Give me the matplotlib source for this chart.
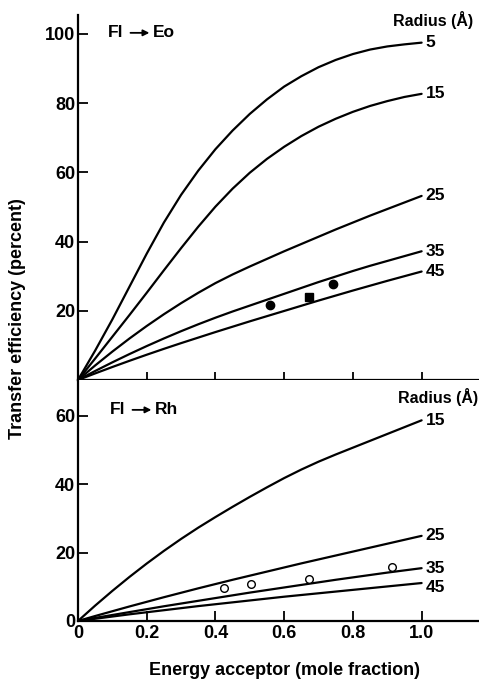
import numpy as np
import matplotlib
matplotlib.use("Agg")
import matplotlib.pyplot as plt

plt.rcParams['font.family'] = ['Liberation Sans', 'DejaVu Sans']

# mole fraction of energy acceptor
x = [0.0, 0.05, 0.1, 0.15, 0.2, 0.25, 0.3, 0.35, 0.4, 0.45, 0.5,
     0.55, 0.6, 0.65, 0.7, 0.75, 0.8, 0.85, 0.9, 0.95, 1.0]

# Fl -> Eo, transfer efficiency (percent) for each radius (A)
eo_radii = ['5', '15', '25', '35', '45']
eo_r5 = [0, 8.5, 17.5, 27, 36.5, 45.5, 53.5, 60.5, 66.7, 72.1, 76.9,
         81.1, 84.8, 87.8, 90.4, 92.5, 94.2, 95.5, 96.4, 97.0, 97.5]
eo_r15 = [0, 6.2, 12.5, 18.8, 25.2, 31.7, 38.1, 44.3, 50.1, 55.3, 59.9,
          63.9, 67.4, 70.5, 73.2, 75.5, 77.5, 79.2, 80.6, 81.8, 82.7]
eo_r25 = [0, 4.2, 8.2, 12.0, 15.6, 19.0, 22.2, 25.2, 28.0, 30.5, 32.8,
          35.0, 37.2, 39.3, 41.4, 43.5, 45.5, 47.5, 49.4, 51.3, 53.2]
eo_r35 = [0, 2.6, 5.1, 7.5, 9.8, 12.0, 14.1, 16.1, 18.0, 19.8, 21.5,
          23.2, 24.9, 26.6, 28.3, 29.9, 31.5, 33.0, 34.4, 35.8, 37.2]
eo_r45 = [0, 1.9, 3.75, 5.55, 7.3, 9.0, 10.65, 12.25, 13.85, 15.4, 16.95,
          18.45, 19.95, 21.45, 22.95, 24.4, 25.85, 27.25, 28.65, 30.0, 31.35]

eo_circ_x = [0.559, 0.741]
eo_circ_y = [21.7, 27.6]
eo_sq_x = [0.671]
eo_sq_y = [24.1]

# Fl -> Rh
rh_radii = ['15', '25', '35', '45']
rh_r15 = [0, 4.5, 8.8, 12.9, 16.8, 20.5, 24.0, 27.3, 30.4, 33.4, 36.3,
          39.1, 41.8, 44.3, 46.6, 48.7, 50.7, 52.7, 54.7, 56.7, 58.7]
rh_r25 = [0, 1.45, 2.85, 4.25, 5.6, 6.95, 8.25, 9.55, 10.8, 12.05, 13.25,
          14.45, 15.65, 16.85, 18.0, 19.15, 20.3, 21.45, 22.6, 23.75, 24.9]
rh_r35 = [0, 0.9, 1.75, 2.6, 3.45, 4.3, 5.1, 5.9, 6.7, 7.5, 8.3,
          9.05, 9.8, 10.55, 11.3, 12.05, 12.75, 13.45, 14.15, 14.8, 15.45]
rh_r45 = [0, 0.65, 1.3, 1.95, 2.55, 3.15, 3.75, 4.35, 4.9, 5.45, 6.0,
          6.55, 7.1, 7.6, 8.1, 8.6, 9.1, 9.6, 10.1, 10.6, 11.1]

rh_open_x = [0.426, 0.504, 0.672, 0.915]
rh_open_y = [9.75, 10.8, 12.3, 15.9]

xticks = [0, 0.2, 0.4, 0.6, 0.8, 1.0]
xticklabels = ['0', '0.2', '0.4', '0.6', '0.8', '1.0']

fig = plt.figure(figsize=(4.79, 6.80), dpi=100)
ax1 = fig.add_axes([0.1628, 0.4412, 0.8372, 0.5368])
ax2 = fig.add_axes([0.1628, 0.0868, 0.8372, 0.3544])

lw = 1.6
tfs = 13   # tick labels
cfs = 12.5 # curve labels

def style(ax, ylim, yticks):
    ax.set_xlim(0, 1.167)
    ax.set_ylim(*ylim)
    for s in ['top', 'right']:
        ax.spines[s].set_visible(False)
    for s in ['left', 'bottom']:
        ax.spines[s].set_linewidth(1.6)
    ax.set_yticks(yticks)
    ax.set_yticklabels([str(v) for v in yticks], fontsize=tfs, fontweight='bold')
    ax.tick_params(axis='y', direction='in', length=7, width=1.3, pad=2)
    ax.set_xticks(xticks)

# ---- top panel
style(ax1, (0, 105.5), [20, 40, 60, 80, 100])
ax1.tick_params(axis='x', direction='inout', length=12, width=1.3, labelbottom=False)
for lab, ys in zip(eo_radii, [eo_r5, eo_r15, eo_r25, eo_r35, eo_r45]):
    ax1.plot(x, ys, color='black', lw=lw, solid_capstyle='round')
    ax1.text(1.012, ys[-1], lab, fontsize=cfs, fontweight='bold', va='center', ha='left')
ax1.plot(eo_circ_x, eo_circ_y, 'o', color='black', ms=6)
ax1.plot(eo_sq_x, eo_sq_y, 's', color='black', ms=5.5)
ax1.text(0.985, 0.985, 'Radius (Å)', transform=ax1.transAxes, fontsize=11.5,
         fontweight='bold', ha='right', va='center')
ax1.text(0.075, 0.951, 'Fl', transform=ax1.transAxes, fontsize=cfs, fontweight='bold',
         ha='left', va='center')
ax1.annotate('', xy=(0.185, 0.951), xytext=(0.124, 0.951), xycoords='axes fraction',
             arrowprops=dict(arrowstyle='-|>', color='black', lw=1.3, mutation_scale=9))
ax1.text(0.187, 0.951, 'Eo', transform=ax1.transAxes, fontsize=cfs, fontweight='bold',
         ha='left', va='center')

# ---- bottom panel
style(ax2, (0, 70.5), [0, 20, 40, 60])
ax2.tick_params(axis='x', direction='in', length=7, width=1.3, pad=3)
ax2.set_xticklabels(xticklabels, fontsize=tfs, fontweight='bold')
for lab, ys in zip(rh_radii, [rh_r15, rh_r25, rh_r35, rh_r45]):
    ax2.plot(x, ys, color='black', lw=lw, solid_capstyle='round')
    dy = -1.2 if lab == '45' else 0
    ax2.text(1.012, ys[-1] + dy, lab, fontsize=cfs, fontweight='bold', va='center', ha='left')
ax2.plot(rh_open_x, rh_open_y, 'o', mfc='white', mec='black', mew=1.0, ms=5.5)
ax2.text(0.997, 0.931, 'Radius (Å)', transform=ax2.transAxes, fontsize=11.5,
         fontweight='bold', ha='right', va='center')
ax2.text(0.08, 0.876, 'Fl', transform=ax2.transAxes, fontsize=cfs, fontweight='bold',
         ha='left', va='center')
ax2.annotate('', xy=(0.19, 0.876), xytext=(0.129, 0.876), xycoords='axes fraction',
             arrowprops=dict(arrowstyle='-|>', color='black', lw=1.3, mutation_scale=9))
ax2.text(0.192, 0.876, 'Rh', transform=ax2.transAxes, fontsize=cfs, fontweight='bold',
         ha='left', va='center')

fig.text(0.037, 0.532, 'Transfer efficiency (percent)', rotation=90, fontsize=13,
         fontweight='bold', ha='center', va='center')
fig.text(0.593, 0.0147, 'Energy acceptor (mole fraction)', fontsize=13,
         fontweight='bold', ha='center', va='center')

fig.savefig('out.png', dpi=100)
